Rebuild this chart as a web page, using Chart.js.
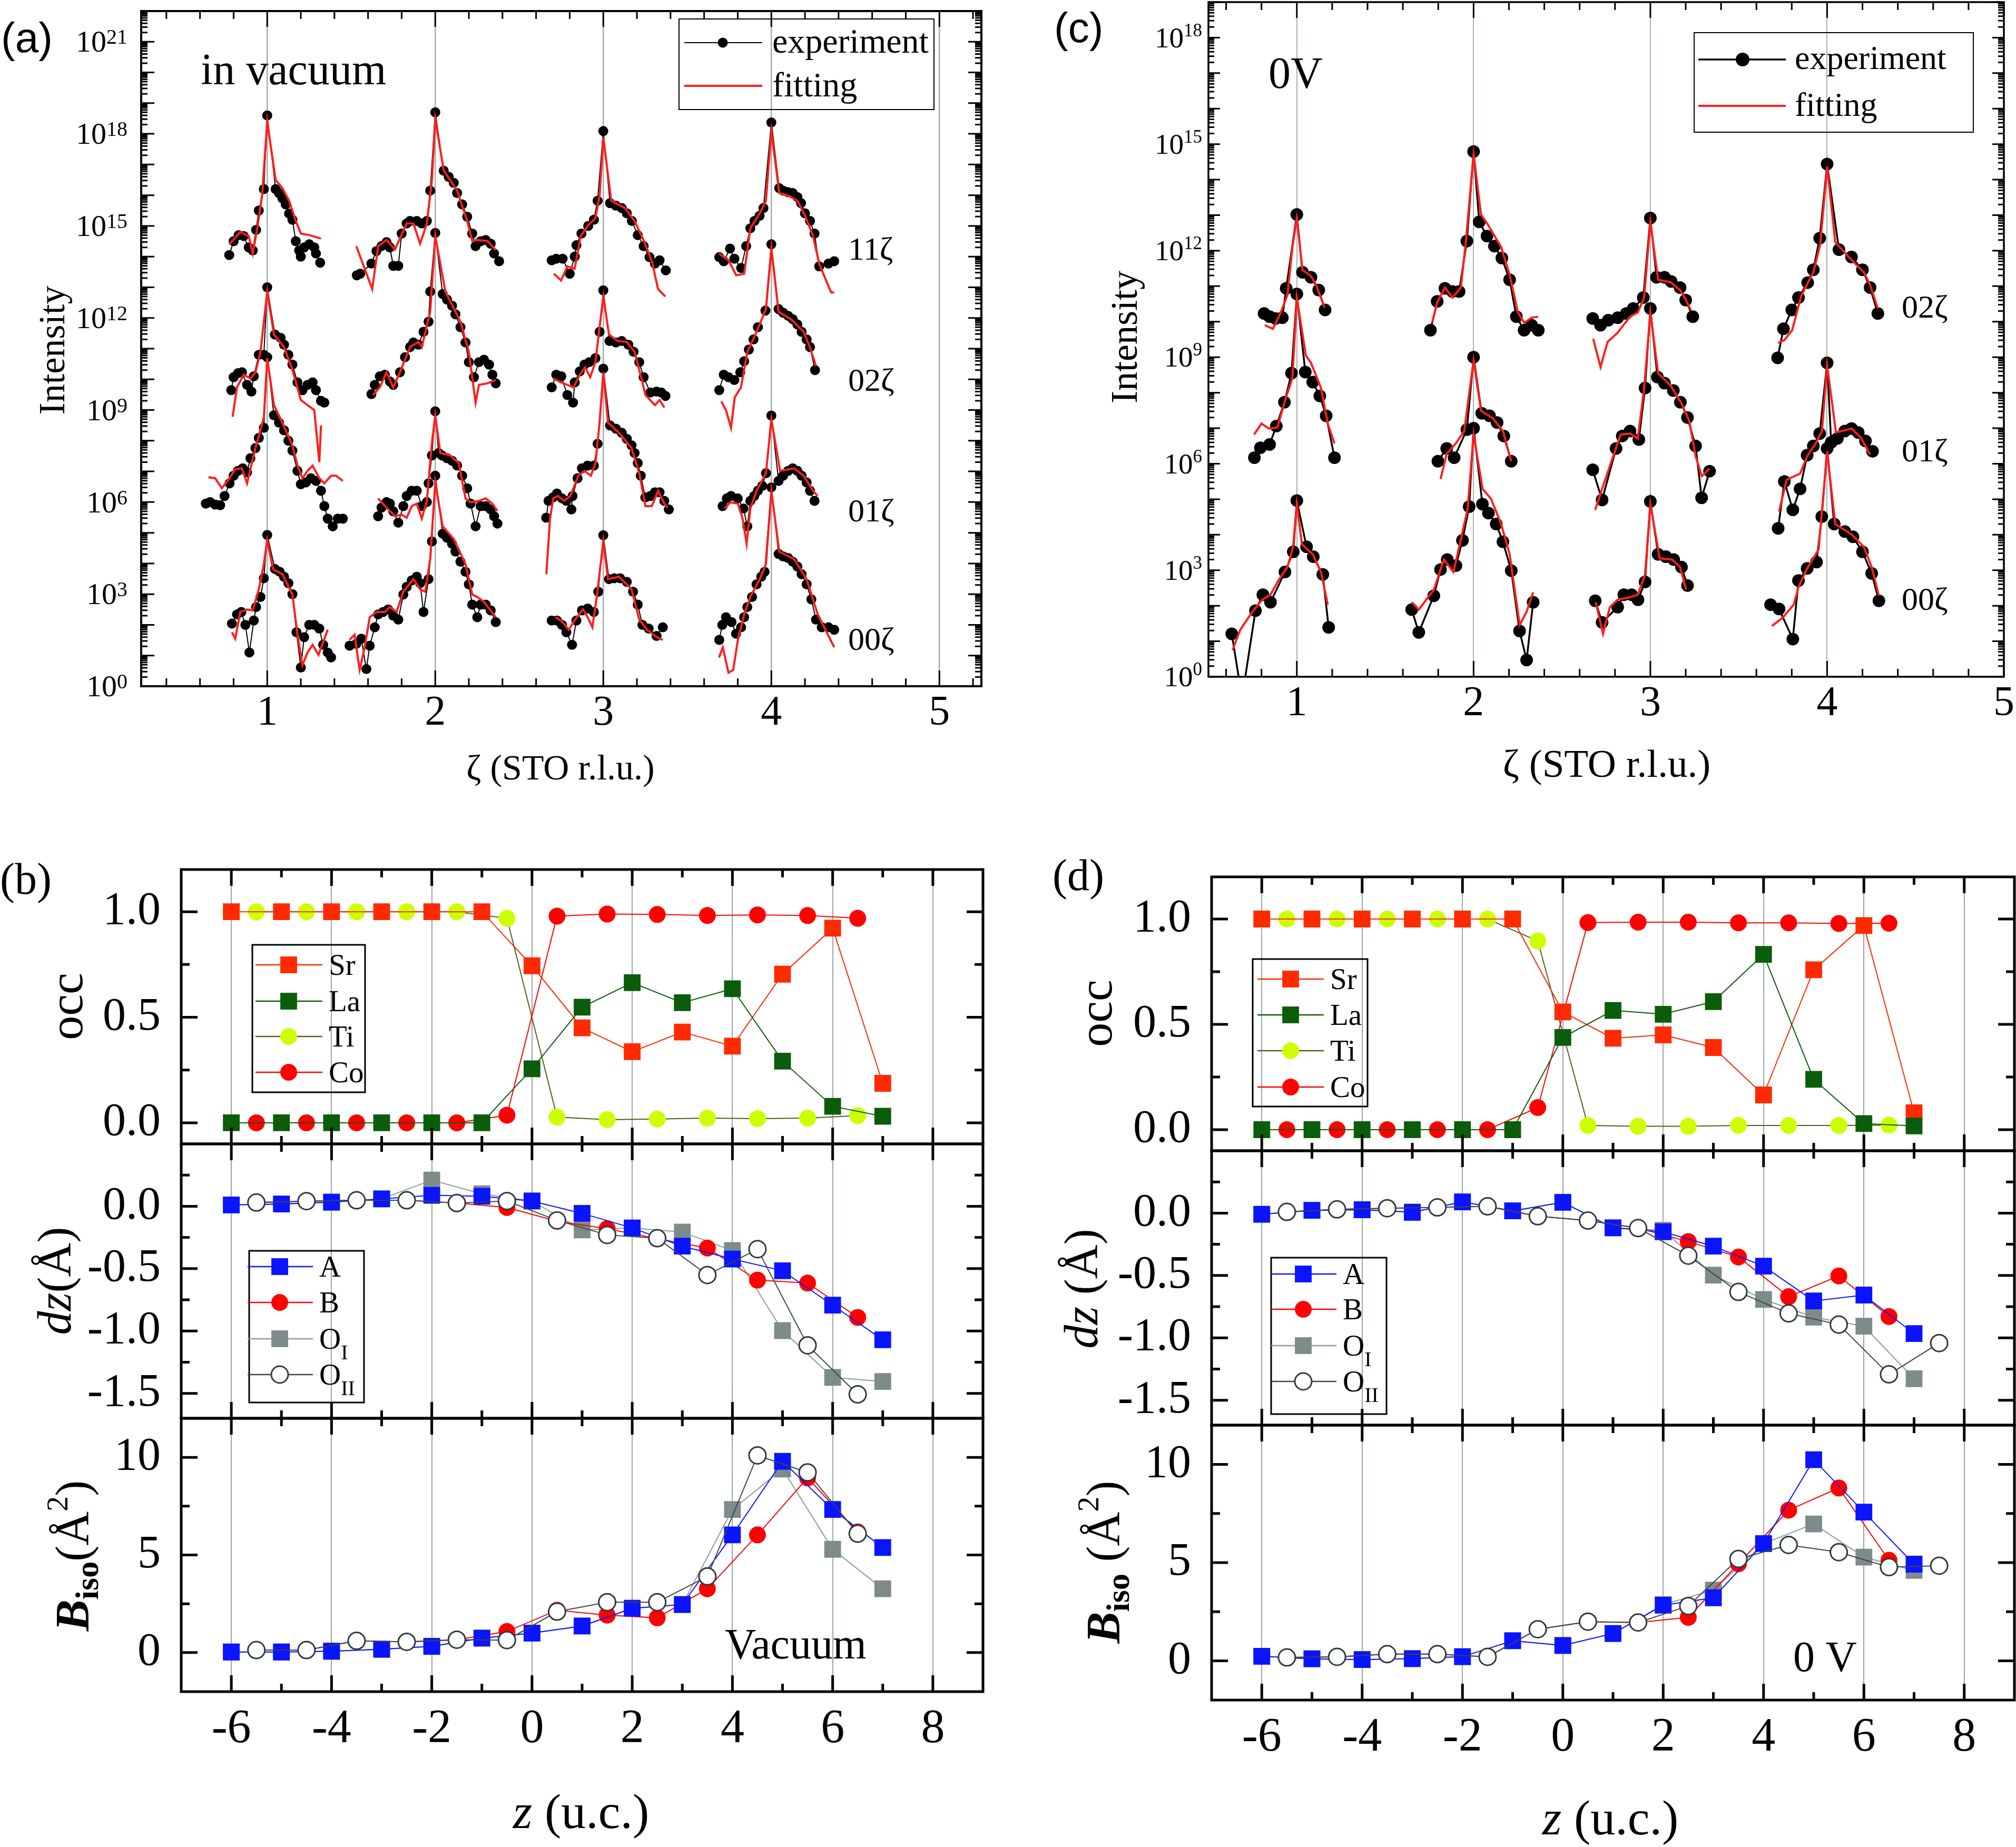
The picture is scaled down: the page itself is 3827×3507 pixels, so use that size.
<!DOCTYPE html>
<html>
<head>
<meta charset="utf-8">
<title>CTR fits and depth profiles</title>
<script src="https://cdn.jsdelivr.net/npm/chart.js@4.4.1/dist/chart.umd.min.js"></script>
<style>
  html, body { margin: 0; padding: 0; background: #fff; }
  body { position: relative; width: 3827px; height: 3507px; overflow: hidden; }
  canvas { position: absolute; }
</style>
</head>
<body>
<script>
const SERIF = "'Liberation Serif', 'DejaVu Serif', serif";
const SANS = "'Liberation Sans', 'DejaVu Sans', sans-serif";

// ---------- (a) rods in vacuum: [zeta, log10(intensity)], null = gap between rods ----------
const aExp11 = [
  [0.774,14.05],[0.80,14.5],[0.83,14.7],[0.86,14.67],[0.89,14.3],[0.914,14.2],[0.934,14.87],[0.95,15.5],[0.98,16.2],[1.0,18.6],[1.05,16.2],[1.07,16.07],[1.09,15.9],[1.11,15.7],[1.13,15.4],[1.15,15.2],[1.17,14.5],[1.19,14.2],[1.20,14.0],[1.22,14.3],[1.25,14.4],[1.28,14.3],[1.29,14.1],[1.315,13.8],
  null,
  [1.533,13.39],[1.553,13.44],[1.62,13.77],[1.65,14.18],[1.68,14.34],[1.71,14.47],[1.73,14.3],[1.75,13.7],[1.78,13.7],[1.80,14.75],[1.83,15.08],[1.85,15.16],[1.89,15.16],[1.92,15.08],[1.95,15.16],[1.97,16.15],[2.0,18.7],[2.05,16.8],[2.08,16.6],[2.11,16.4],[2.13,16.07],[2.16,15.7],[2.19,15.3],[2.22,14.75],[2.24,14.34],[2.27,14.5],[2.30,14.54],[2.33,14.42],[2.35,14.1],[2.38,13.85],
  null,
  [2.693,13.88],[2.72,13.93],[2.758,13.93],[2.80,13.44],[2.83,14.0],[2.84,14.37],[2.87,14.75],[2.91,15.0],[2.944,15.2],[2.966,15.82],[3.0,18.09],[3.04,15.74],[3.075,15.66],[3.11,15.58],[3.14,15.41],[3.17,15.16],[3.205,14.7],[3.24,14.34],[3.275,13.98],[3.307,13.77],[3.335,13.88],[3.372,13.55],
  null,
  [3.69,13.98],[3.717,13.85],[3.754,14.26],[3.78,13.93],[3.82,13.63],[3.85,14.34],[3.875,14.92],[3.90,15.16],[3.93,15.33],[3.953,15.58],[4.0,18.37],[4.047,16.23],[4.07,16.15],[4.099,16.1],[4.127,16.07],[4.155,15.94],[4.177,15.74],[4.20,15.41],[4.23,15.16],[4.257,14.75],[4.285,13.68],[4.34,13.77],[4.374,13.85]
];
const aFit11 = [
  [0.774,14.4],[0.84,14.8],[0.89,14.67],[0.914,14.1],[0.94,14.9],[0.97,16.0],[1.0,18.4],[1.05,16.5],[1.09,16.23],[1.13,15.82],[1.17,15.16],[1.20,14.75],[1.25,14.7],[1.32,14.59],
  null,
  [1.53,14.34],[1.625,12.94],[1.66,14.34],[1.71,14.54],[1.76,14.23],[1.83,15.08],[1.87,15.08],[1.91,14.42],[1.95,15.08],[1.98,16.48],[2.0,18.49],[2.05,16.81],[2.13,16.15],[2.19,15.16],[2.22,14.51],[2.25,14.54],[2.31,14.51],[2.36,14.21],
  null,
  [2.706,13.44],[2.749,13.22],[2.786,13.68],[2.829,13.6],[2.866,14.67],[2.907,15.0],[2.953,15.25],[2.978,15.99],[3.0,17.88],[3.047,15.82],[3.13,15.58],[3.186,15.16],[3.242,14.51],[3.289,13.85],[3.326,12.94],[3.369,12.7],
  null,
  [3.689,14.1],[3.745,13.88],[3.791,13.39],[3.838,13.44],[3.875,14.92],[3.931,15.41],[3.968,15.82],[4.0,18.09],[4.047,16.07],[4.099,15.99],[4.155,15.82],[4.201,15.33],[4.248,14.67],[4.285,13.77],[4.322,13.27],[4.356,12.83],[4.374,12.83]
];
const aExp02 = [
  [0.786,9.65],[0.80,10.07],[0.826,10.2],[0.85,10.23],[0.88,9.82],[0.906,9.6],[0.92,10.1],[0.95,10.8],[0.98,10.8],[1.0,13.0],[1.046,11.46],[1.08,11.35],[1.10,11.13],[1.126,10.8],[1.15,10.48],[1.18,9.9],[1.21,9.65],[1.24,9.82],[1.27,9.9],[1.29,9.65],[1.32,9.3],[1.34,9.24],
  null,
  [1.62,9.52],[1.64,9.82],[1.67,10.1],[1.70,10.15],[1.73,9.93],[1.75,9.82],[1.79,10.23],[1.82,10.72],[1.85,11.05],[1.87,11.2],[1.90,11.13],[1.93,11.55],[1.96,11.88],[1.97,12.86],[2.0,14.77],[2.044,12.78],[2.07,12.6],[2.10,12.4],[2.12,12.12],[2.15,11.7],[2.18,11.2],[2.20,10.56],[2.23,10.07],[2.26,10.56],[2.29,10.64],[2.32,10.48],[2.34,10.15],[2.36,9.87],
  null,
  [2.693,9.74],[2.72,10.15],[2.75,10.1],[2.786,9.49],[2.82,9.24],[2.83,9.9],[2.86,10.26],[2.888,10.48],[2.916,10.56],[2.953,10.69],[2.978,11.55],[3.0,12.9],[3.037,11.25],[3.075,11.2],[3.11,11.25],[3.149,11.13],[3.18,10.9],[3.214,10.56],[3.24,10.07],[3.28,9.57],[3.317,9.6],[3.345,9.57],[3.37,9.46],
  null,
  [3.69,9.65],[3.717,10.15],[3.745,10.07],[3.78,9.98],[3.815,10.23],[3.838,10.59],[3.866,10.97],[3.894,11.3],[3.92,11.7],[3.965,12.24],[4.0,14.4],[4.043,12.29],[4.07,12.17],[4.10,12.07],[4.127,11.96],[4.155,11.79],[4.18,11.55],[4.21,11.3],[4.23,11.05],[4.26,10.3]
];
const aFit02 = [
  [0.794,8.78],[0.82,9.74],[0.86,10.15],[0.90,10.03],[0.93,10.23],[0.96,10.89],[1.0,12.86],[1.04,11.46],[1.10,11.05],[1.15,10.31],[1.20,9.33],[1.24,9.16],[1.28,9.0],[1.31,7.3],[1.32,8.5],
  null,
  [1.63,9.49],[1.67,9.74],[1.71,10.23],[1.75,9.74],[1.79,10.23],[1.85,11.05],[1.90,11.22],[1.92,11.05],[1.97,12.2],[2.0,14.67],[2.06,12.86],[2.15,11.88],[2.20,10.89],[2.24,9.24],[2.26,9.82],[2.31,9.87],[2.36,9.98],
  null,
  [2.702,10.03],[2.749,9.9],[2.786,9.82],[2.823,9.74],[2.86,10.15],[2.892,10.39],[2.922,10.07],[2.953,10.56],[2.978,11.71],[3.0,12.7],[3.034,11.46],[3.084,11.25],[3.14,11.22],[3.186,10.89],[3.233,9.9],[3.251,9.49],[3.307,9.16],[3.335,9.33],[3.363,9.08],
  null,
  [3.702,9.28],[3.73,9.0],[3.76,8.42],[3.782,9.41],[3.819,9.74],[3.857,10.89],[3.912,11.55],[3.968,12.29],[4.0,14.26],[4.043,12.2],[4.117,11.96],[4.192,11.55],[4.229,11.05],[4.266,10.43]
];
const aExp01 = [
  [0.635,5.95],[0.66,6.0],[0.69,5.92],[0.72,5.9],[0.746,6.2],[0.776,6.61],[0.80,6.86],[0.826,7.02],[0.854,7.1],[0.88,6.97],[0.90,7.43],[0.93,7.76],[0.95,8.09],[0.98,8.42],[1.0,10.72],[1.04,8.83],[1.07,8.59],[1.10,8.34],[1.126,8.0],[1.15,7.68],[1.18,7.02],[1.20,6.58],[1.23,6.64],[1.26,6.78],[1.29,6.69],[1.32,6.37],[1.34,5.87],[1.36,5.46],[1.39,5.21],[1.42,5.46],[1.45,5.46],
  null,
  [1.66,5.54],[1.68,5.82],[1.71,6.0],[1.73,5.95],[1.75,5.7],[1.78,5.33],[1.81,5.87],[1.83,6.2],[1.86,6.37],[1.89,6.37],[1.92,5.87],[1.95,6.0],[1.96,6.61],[1.98,7.52],[2.0,8.96],[2.02,7.6],[2.04,7.52],[2.07,7.43],[2.10,7.35],[2.13,7.19],[2.16,6.86],[2.19,6.45],[2.21,5.95],[2.24,5.21],[2.27,5.87],[2.30,5.87],[2.33,5.76],[2.35,5.54],[2.37,5.3],
  null,
  [2.66,5.49],[2.674,6.04],[2.70,6.15],[2.724,6.28],[2.754,6.12],[2.78,6.04],[2.81,5.76],[2.817,6.2],[2.847,6.78],[2.873,7.1],[2.907,7.19],[2.944,7.19],[2.966,7.9],[3.0,10.35],[3.04,8.5],[3.075,8.39],[3.11,8.26],[3.14,8.06],[3.168,7.85],[3.186,7.6],[3.205,7.27],[3.223,6.86],[3.25,6.15],[3.28,6.2],[3.307,6.32],[3.335,6.32],[3.363,6.04],[3.39,5.76],
  null,
  [3.71,5.87],[3.735,6.12],[3.76,6.2],[3.80,6.12],[3.834,5.79],[3.857,5.21],[3.875,6.04],[3.898,6.2],[3.92,6.37],[3.946,6.53],[3.968,6.94],[4.0,8.82],[4.043,6.69],[4.07,6.86],[4.1,7.02],[4.127,7.1],[4.155,7.02],[4.18,6.86],[4.21,6.64],[4.23,6.37],[4.257,6.04]
];
const aFit01 = [
  [0.65,6.81],[0.69,6.78],[0.73,6.45],[0.77,6.74],[0.81,7.07],[0.85,7.1],[0.88,6.61],[0.93,7.76],[0.98,8.75],[1.0,10.69],[1.04,9.16],[1.09,8.59],[1.15,7.85],[1.18,7.19],[1.21,6.78],[1.24,7.02],[1.27,7.19],[1.31,6.78],[1.34,6.61],[1.38,6.86],[1.41,6.86],[1.45,6.69],
  null,
  [1.66,6.12],[1.71,5.82],[1.76,5.54],[1.80,5.59],[1.83,5.49],[1.86,5.87],[1.89,5.95],[1.92,5.46],[1.95,6.04],[1.98,7.93],[2.0,8.83],[2.03,7.6],[2.09,7.52],[2.14,7.27],[2.18,6.12],[2.21,5.99],[2.26,6.04],[2.30,6.12],[2.34,5.95],[2.37,5.71],
  null,
  [2.661,3.65],[2.683,5.46],[2.702,6.12],[2.73,6.2],[2.767,6.04],[2.804,6.2],[2.851,6.86],[2.888,7.02],[2.926,6.86],[2.953,7.27],[2.978,8.59],[3.0,10.23],[3.028,8.59],[3.093,8.26],[3.168,7.76],[3.214,6.94],[3.251,5.87],[3.289,5.87],[3.326,6.37],[3.363,5.95],[3.382,5.82],
  null,
  [3.723,5.79],[3.754,5.99],[3.801,5.95],[3.829,5.46],[3.853,4.64],[3.875,5.79],[3.912,6.37],[3.968,6.94],[4.0,8.7],[4.052,7.02],[4.136,7.1],[4.192,6.86],[4.248,6.37],[4.276,6.2]
];
const aExp00 = [
  [0.79,2.04],[0.82,2.34],[0.846,2.42],[0.87,2.0],[0.894,1.1],[0.92,2.14],[0.934,2.58],[0.96,2.91],[0.98,3.52],[1.0,4.93],[1.046,3.82],[1.074,3.73],[1.10,3.57],[1.126,3.36],[1.15,3.0],[1.174,1.76],[1.20,0.61],[1.22,1.6],[1.25,2.0],[1.28,2.0],[1.31,1.88],[1.333,1.35],[1.36,1.1],[1.38,0.94],
  null,
  [1.49,1.32],[1.53,1.38],[1.56,1.55],[1.59,0.56],[1.61,1.32],[1.64,1.92],[1.66,2.34],[1.69,2.42],[1.72,2.5],[1.75,2.3],[1.78,2.17],[1.81,2.99],[1.83,3.24],[1.86,3.45],[1.89,3.57],[1.91,3.36],[1.93,2.42],[1.96,3.49],[1.98,4.72],[2.0,6.86],[2.044,4.97],[2.07,4.84],[2.10,4.64],[2.12,4.39],[2.15,4.06],[2.18,3.73],[2.20,3.32],[2.22,2.66],[2.25,2.25],[2.27,2.66],[2.30,2.66],[2.33,2.47],[2.36,2.09],
  null,
  [2.693,2.14],[2.724,2.14],[2.754,2.0],[2.78,1.76],[2.814,1.35],[2.84,2.14],[2.873,2.47],[2.907,2.53],[2.944,2.42],[2.97,3.08],[3.0,4.92],[3.034,3.49],[3.065,3.52],[3.10,3.52],[3.14,3.4],[3.177,3.08],[3.205,2.66],[3.233,2.0],[3.27,1.88],[3.317,1.64],[3.354,1.92],
  null,
  [3.69,1.51],[3.708,2.0],[3.73,2.25],[3.763,2.09],[3.79,1.71],[3.82,1.92],[3.838,2.25],[3.857,2.58],[3.885,2.91],[3.912,3.32],[3.94,3.57],[3.96,3.73],[4.0,6.48],[4.043,4.31],[4.07,4.23],[4.1,4.18],[4.127,4.06],[4.155,3.9],[4.18,3.65],[4.21,3.32],[4.238,2.83],[4.266,2.17],[4.30,1.92],[4.34,1.92],[4.374,1.84]
];
const aFit00 = [
  [0.79,1.76],[0.81,1.55],[0.84,2.42],[0.88,2.5],[0.914,2.47],[0.95,3.16],[0.98,3.98],[1.0,4.77],[1.034,3.82],[1.09,3.65],[1.15,2.99],[1.18,1.68],[1.21,0.69],[1.24,1.1],[1.27,1.35],[1.305,1.02],[1.36,1.84],
  null,
  [1.49,1.51],[1.52,1.68],[1.55,0.53],[1.58,1.27],[1.61,2.25],[1.65,2.42],[1.70,2.42],[1.73,2.58],[1.77,2.42],[1.81,3.08],[1.87,3.49],[1.91,3.16],[1.94,3.08],[1.97,4.14],[2.0,6.64],[2.044,5.21],[2.11,4.8],[2.18,3.98],[2.22,2.99],[2.25,2.91],[2.29,2.75],[2.36,2.25],
  null,
  [2.717,2.25],[2.758,2.09],[2.795,1.84],[2.832,2.17],[2.879,2.5],[2.907,2.25],[2.935,1.92],[2.963,2.99],[3.0,4.72],[3.028,3.49],[3.093,3.57],[3.168,3.16],[3.214,2.17],[3.261,1.84],[3.317,1.6],[3.354,1.51],
  null,
  [3.689,0.94],[3.711,1.27],[3.745,0.44],[3.773,0.53],[3.801,1.51],[3.838,2.34],[3.875,2.91],[3.931,3.49],[3.968,3.98],[4.0,6.37],[4.047,4.39],[4.136,4.14],[4.21,3.49],[4.248,2.83],[4.276,2.34],[4.322,1.84],[4.374,1.27]
];

// ---------- (c) rods at 0 V ----------
const cExp02 = [
  [0.815,10.23],[0.846,10.14],[0.88,10.09],[0.918,10.11],[0.94,10.94],[1.0,13.02],[1.032,11.39],[1.08,11.25],[1.124,10.89],[1.16,10.33],
  null,
  [1.756,9.76],[1.794,10.57],[1.838,10.94],[1.88,10.85],[1.918,10.85],[1.962,12.27],[2.0,14.79],[2.032,12.81],[2.076,12.41],[2.118,12.13],[2.16,11.79],[2.204,11.18],[2.242,10.14],[2.286,9.76],[2.328,9.9],[2.366,9.76],
  null,
  [2.674,10.09],[2.718,9.9],[2.762,10.04],[2.815,10.11],[2.864,10.23],[2.903,10.37],[2.96,10.68],[3.0,12.92],[3.035,11.25],[3.08,11.25],[3.118,11.13],[3.168,10.96],[3.2,10.61],[3.24,10.14],
  null,
  [3.72,8.98],[3.753,9.8],[3.8,10.33],[3.838,10.68],[3.89,11.1],[3.922,11.46],[3.958,12.35],[4.0,14.44],[4.067,12.03],[4.138,11.82],[4.2,11.46],[4.243,10.96],[4.287,10.23]
];
const cFit02 = [
  [0.819,9.9],[0.865,9.8],[0.909,10.26],[0.947,10.75],[0.975,12.1],[1.0,12.92],[1.032,11.46],[1.08,11.28],[1.109,11.04],[1.156,10.4],
  null,
  [1.766,9.97],[1.794,10.54],[1.838,10.96],[1.88,10.68],[1.928,10.96],[1.956,12.24],[2.0,14.72],[2.042,13.02],[2.08,12.74],[2.156,12.1],[2.204,11.32],[2.251,10.26],[2.286,9.97],[2.328,10.11],[2.366,10.14],
  null,
  [2.677,9.52],[2.718,8.72],[2.758,9.43],[2.815,9.69],[2.885,10.14],[2.929,10.26],[2.965,10.68],[3.0,12.81],[3.044,11.18],[3.115,11.11],[3.168,10.89],[3.194,10.68],[3.229,10.33],
  null,
  [3.723,9.4],[3.758,9.48],[3.802,9.76],[3.855,10.75],[3.922,11.39],[3.961,12.17],[4.0,14.37],[4.046,12.24],[4.138,11.74],[4.208,11.39],[4.243,11.04],[4.287,10.37]
];
const cExp01 = [
  [0.76,6.17],[0.794,6.45],[0.846,6.54],[0.884,7.06],[0.93,7.73],[0.97,8.55],[1.0,10.78],[1.048,8.58],[1.09,8.3],[1.13,7.91],[1.166,7.35],[1.213,6.17],
  null,
  [1.798,6.07],[1.848,6.43],[1.89,6.17],[1.962,6.96],[2.0,9.0],[2.046,7.42],[2.09,7.35],[2.133,7.16],[2.171,6.78],[2.213,6.07],
  null,
  [2.674,5.83],[2.727,4.98],[2.806,6.43],[2.841,6.78],[2.885,6.92],[2.935,6.68],[2.97,8.13],[3.0,10.37],[3.04,8.44],[3.08,8.27],[3.13,8.06],[3.17,7.73],[3.21,7.3],[3.256,6.5],[3.29,5.04],[3.335,5.79],
  null,
  [3.723,4.18],[3.758,5.5],[3.806,4.7],[3.847,5.29],[3.887,6.24],[3.922,6.5],[3.958,6.85],[4.0,8.84],[4.023,6.6],[4.058,6.71],[4.1,6.92],[4.138,6.99],[4.176,6.88],[4.217,6.64],[4.257,6.35]
];
const cFit01 = [
  [0.758,6.82],[0.8,7.13],[0.842,6.99],[0.89,7.02],[0.937,7.84],[0.975,8.41],[1.0,10.68],[1.051,9.05],[1.08,8.84],[1.137,8.13],[1.175,7.13],[1.213,6.57],
  null,
  [1.813,5.57],[1.848,6.28],[1.899,6.57],[1.947,6.92],[2.0,8.91],[2.042,7.49],[2.109,7.28],[2.166,6.92],[2.213,6.07],
  null,
  [2.688,4.7],[2.727,5.29],[2.78,6.07],[2.832,6.82],[2.885,6.85],[2.929,6.71],[2.965,8.13],[3.0,10.26],[3.044,8.55],[3.115,8.2],[3.176,7.7],[3.22,7.21],[3.256,6.21],[3.291,5.65],[3.335,5.86],
  null,
  [3.728,4.65],[3.771,5.55],[3.847,5.72],[3.887,6.21],[3.935,6.57],[3.971,6.92],[4.0,8.77],[4.05,6.88],[4.138,6.99],[4.19,6.74],[4.243,6.26]
];
const cExp00 = [
  [0.632,1.21],[0.69,-0.6],[0.766,1.86],[0.808,2.31],[0.851,2.1],[0.933,2.95],[0.98,3.52],[1.0,4.96],[1.055,3.66],[1.093,3.38],[1.147,2.88],[1.18,1.39],
  null,
  [1.65,1.89],[1.69,1.25],[1.775,2.28],[1.813,3.02],[1.851,3.3],[1.9,3.13],[1.937,3.84],[1.975,4.79],[2.0,7.0],[2.05,4.86],[2.084,4.61],[2.128,4.3],[2.166,3.8],[2.213,2.99],[2.26,1.29],[2.3,0.47],[2.337,2.1],
  null,
  [2.688,2.14],[2.727,1.53],[2.815,1.96],[2.85,2.31],[2.894,2.31],[2.93,2.17],[2.97,2.67],[3.0,4.94],[3.044,3.45],[3.088,3.38],[3.132,3.3],[3.176,3.09],[3.21,2.57],
  null,
  [3.68,2.03],[3.728,1.91],[3.806,1.06],[3.838,2.71],[3.887,3.05],[3.94,3.23],[3.97,4.51],[4.0,6.43],[4.04,4.3],[4.1,4.09],[4.146,3.94],[4.2,3.52],[4.252,2.91],[4.293,2.14]
];
const cFit00 = [
  [0.636,0.75],[0.68,1.32],[0.747,1.82],[0.804,2.17],[0.851,2.31],[0.899,2.74],[0.947,3.09],[0.979,3.66],[1.0,4.87],[1.029,3.73],[1.09,3.45],[1.137,2.95],[1.175,2.03],
  null,
  [1.651,2.1],[1.69,1.89],[1.775,2.45],[1.832,3.3],[1.886,2.95],[1.928,3.87],[1.966,4.72],[2.0,6.82],[2.051,5.29],[2.099,5.01],[2.156,4.3],[2.204,3.45],[2.261,1.46],[2.299,1.82],[2.337,2.38],
  null,
  [2.691,2.1],[2.732,1.21],[2.771,1.96],[2.815,2.17],[2.885,2.24],[2.929,2.31],[2.97,2.88],[3.0,4.87],[3.053,3.33],[3.123,3.3],[3.168,3.09],[3.203,2.45],
  null,
  [3.688,1.43],[3.75,1.67],[3.811,2.03],[3.838,2.52],[3.887,3.05],[3.952,3.59],[4.0,6.35],[4.046,4.3],[4.138,4.01],[4.208,3.66],[4.252,3.09],[4.293,2.28]
];

// ---------- (b)/(d) depth profiles, z in unit cells ----------
const zInt = [-6, -5, -4, -3, -2, -1, 0, 1, 2, 3, 4, 5, 6, 7];
const zHalf = [-5.5, -4.5, -3.5, -2.5, -1.5, -0.5, 0.5, 1.5, 2.5, 3.5, 4.5, 5.5, 6.5];
const zHalfLong = [-5.5, -4.5, -3.5, -2.5, -1.5, -0.5, 0.5, 1.5, 2.5, 3.5, 4.5, 5.5, 6.5, 7.5];

// (b) vacuum
const bOccSr = [1, 1, 1, 1, 1, 1, 0.744, 0.45, 0.337, 0.43, 0.363, 0.704, 0.922, 0.187];
const bOccLa = [0, 0, 0, 0, 0, 0, 0.256, 0.548, 0.664, 0.569, 0.635, 0.292, 0.078, 0.031];
const bOccTi = [1, 1, 1, 1, 1, 0.969, 0.027, 0.015, 0.018, 0.022, 0.02, 0.022, 0.034];
const bOccCo = [0, 0, 0, 0, 0, 0.036, 0.979, 0.989, 0.987, 0.982, 0.985, 0.982, 0.969];
const bDzA = [0.011, 0.018, 0.033, 0.059, 0.088, 0.08, 0.042, -0.057, -0.174, -0.32, -0.423, -0.517, -0.793, -1.07];
const bDzB = [0.03, 0.041, 0.048, 0.048, 0.026, -0.01, -0.12, -0.18, -0.26, -0.335, -0.592, -0.616, -0.891];
const bDzOI = [0.011, 0.018, 0.033, 0.059, 0.21, 0.1, 0.042, -0.19, -0.174, -0.207, -0.355, -0.997, -1.372, -1.405];
const bDzOII = [0.03, 0.041, 0.048, 0.048, 0.026, 0.042, -0.113, -0.23, -0.256, -0.551, -0.344, -1.115, -1.508];
const bBisoA = [0.03, 0.03, 0.07, 0.17, 0.32, 0.74, 1.0, 1.36, 2.27, 2.46, 6.03, 9.8, 7.33, 5.38];
const bBisoB = [0.13, 0.13, 0.6, 0.55, 0.66, 1.08, 2.17, 1.92, 1.78, 3.27, 6.03, 8.95, 6.18];
const bBisoOI = [0.03, 0.03, 0.07, 0.17, 0.32, 0.74, 1.0, 1.36, 2.27, 2.46, 7.33, 9.4, 5.29, 3.27];
const bBisoOII = [0.13, 0.13, 0.6, 0.55, 0.66, 0.64, 2.1, 2.58, 2.58, 3.9, 10.1, 9.23, 6.09];

// (d) 0 V
const dOccSr = [1, 1, 1, 1, 1, 1, 0.559, 0.434, 0.45, 0.39, 0.165, 0.759, 0.969, 0.08];
const dOccLa = [0, 0, 0, 0, 0, 0, 0.438, 0.566, 0.548, 0.608, 0.832, 0.239, 0.029, 0.018];
const dOccTi = [1, 1, 1, 1, 1, 0.896, 0.02, 0.016, 0.016, 0.02, 0.02, 0.02, 0.022];
const dOccCo = [0, 0, 0, 0, 0, 0.105, 0.983, 0.985, 0.985, 0.982, 0.982, 0.979, 0.98];
const dDzA = [-0.009, 0.022, 0.027, 0.007, 0.09, 0.018, 0.087, -0.118, -0.15, -0.265, -0.425, -0.704, -0.657, -0.966];
const dDzB = [0.01, 0.03, 0.039, 0.046, 0.054, -0.025, -0.06, -0.12, -0.228, -0.352, -0.67, -0.504, -0.829];
const dDzOI = [-0.009, 0.022, 0.027, 0.007, 0.09, 0.018, 0.087, -0.118, -0.138, -0.497, -0.692, -0.834, -0.907, -1.328];
const dDzOII = [0.01, 0.03, 0.039, 0.046, 0.054, -0.025, -0.06, -0.12, -0.341, -0.632, -0.804, -0.894, -1.293, -1.042];
const dBisoA = [0.23, 0.1, 0.06, 0.11, 0.21, 1.02, 0.78, 1.39, 2.83, 3.21, 5.97, 10.24, 7.57, 4.92];
const dBisoB = [0.17, 0.2, 0.34, 0.34, 0.2, 1.61, 1.99, 1.95, 2.21, 4.94, 7.67, 8.8, 5.12];
const dBisoOI = [0.23, 0.1, 0.06, 0.11, 0.21, 1.02, 0.78, 1.39, 2.86, 3.6, 5.97, 6.97, 5.28, 4.6];
const dBisoOII = [0.17, 0.2, 0.34, 0.34, 0.2, 1.61, 1.99, 1.95, 2.79, 5.19, 5.9, 5.53, 4.77, 4.84];

// ---------- helpers ----------
const logPts = arr => arr.map(p => p ? { x: p[0], y: Math.pow(10, p[1]) } : { x: null, y: null });
const pairs = (xs, ys) => xs.map((x, i) => ({ x: x, y: ys[i] }));
const f = (size, style) => (style ? style + ' ' : '') + size + 'px ' + SERIF;

const RED = '#FF1E1E';
const ST = {
  Sr:  { fill: '#FF2A00', line: '#FF2A00', style: 'rect', r: 22.5 },
  La:  { fill: '#0B5C0B', line: '#0B5C0B', style: 'rect', r: 22.5 },
  Ti:  { fill: '#CCFF00', line: '#4F5F1A', style: 'circle', r: 16 },
  Co:  { fill: '#FF0000', line: '#FF0000', style: 'circle', r: 16 },
  A:   { fill: '#0A14FF', line: '#0A14FF', style: 'rect', r: 22.5 },
  B:   { fill: '#FF0000', line: '#FF0000', style: 'circle', r: 16 },
  OI:  { fill: '#7E8B8B', line: '#8E9B9B', style: 'rect', r: 22.5 },
  OII: { fill: '#FFFFFF', line: '#3A4646', style: 'circle', r: 16, stroke: '#2F3B3B', sw: 3 }
};

function layerDs(xs, ys, st) {
  return {
    data: pairs(xs, ys), borderColor: st.line, borderWidth: 2,
    pointStyle: st.style, pointRadius: st.r, pointHoverRadius: st.r,
    pointBackgroundColor: st.fill, pointBorderColor: st.stroke || st.fill, pointBorderWidth: st.sw || 0
  };
}

function marker(ctx, m, x, y) {
  ctx.beginPath();
  if (m.style === 'rect') { const s = Math.SQRT1_2 * m.r; ctx.rect(x - s, y - s, 2 * s, 2 * s); }
  else ctx.arc(x, y, m.r, 0, Math.PI * 2);
  ctx.fillStyle = m.fill; ctx.fill();
  if (m.sw) { ctx.lineWidth = m.sw; ctx.strokeStyle = m.stroke; ctx.stroke(); }
}

function drawParts(ctx, parts, x, y, align) {
  let w = 0;
  parts.forEach(p => { ctx.font = p[1]; p.w = ctx.measureText(p[0]).width; w += p.w; });
  let cx = align === 'center' ? x - w / 2 : align === 'right' ? x - w : x;
  parts.forEach(p => { ctx.font = p[1]; ctx.fillText(p[0], cx, y + (p[2] || 0)); cx += p.w; });
}

function decorPlugin(d) {
  return {
    id: 'decor',
    afterDatasetsDraw(chart) {
      const ctx = chart.ctx, a = chart.chartArea, xs = chart.scales.x, ys = chart.scales.y;
      ctx.save();
      ctx.strokeStyle = '#000';
      ctx.lineWidth = d.tickW;
      ctx.beginPath();
      const xt = (vals, len) => vals.forEach(v => {
        const p = xs.getPixelForValue(v);
        ctx.moveTo(p, a.bottom); ctx.lineTo(p, a.bottom - len);
        ctx.moveTo(p, a.top); ctx.lineTo(p, a.top + len);
      });
      const yt = (vals, len) => vals.forEach(v => {
        const p = ys.getPixelForValue(v);
        ctx.moveTo(a.left, p); ctx.lineTo(a.left + len, p);
        ctx.moveTo(a.right, p); ctx.lineTo(a.right - len, p);
      });
      xt(d.xMajor, d.xMajLen); xt(d.xMinor, d.xMinLen);
      yt(d.yMajor, d.yMajLen); yt(d.yMinor, d.yMinLen);
      ctx.stroke();
      ctx.lineWidth = d.frameW;
      ctx.strokeRect(a.left, a.top, a.right - a.left, a.bottom - a.top);
      ctx.restore();
    },
    afterDraw(chart) {
      const ctx = chart.ctx, a = chart.chartArea, ys = chart.scales.y;
      const ox = d.ox, oy = d.oy;
      ctx.save();
      ctx.fillStyle = '#000';
      ctx.textAlign = 'left';
      ctx.textBaseline = 'alphabetic';
      if (d.logLabels) {
        const L = d.logLabels;
        L.exps.forEach(e => {
          const y = ys.getPixelForValue(Math.pow(10, e));
          const sup = String(e);
          ctx.font = f(L.sup); const ws = ctx.measureText(sup).width;
          ctx.font = f(L.base); const wb = ctx.measureText('10').width;
          const xr = a.left - L.gap;
          const base = y + 0.33 * L.base;
          ctx.font = f(L.base); ctx.fillText('10', xr - ws - wb, base);
          ctx.font = f(L.sup); ctx.fillText(sup, xr - ws, base - L.raise);
        });
      }
      (d.texts || []).forEach(t => {
        ctx.save();
        ctx.fillStyle = t.color || '#000';
        ctx.translate(t.x - ox, t.y - oy);
        if (t.rot) ctx.rotate(t.rot * Math.PI / 180);
        drawParts(ctx, t.parts.map(p => p.slice()), 0, 0, t.align || 'left');
        ctx.restore();
      });
      (d.legends || []).forEach(lg => {
        const b = lg.box;
        ctx.lineWidth = lg.bw; ctx.strokeStyle = '#000';
        ctx.strokeRect(b.l - ox, b.t - oy, b.r - b.l, b.b - b.t);
        lg.items.forEach(it => {
          const y = it.y - oy;
          ctx.beginPath();
          ctx.moveTo(it.x1 - ox, y); ctx.lineTo(it.x2 - ox, y);
          ctx.lineWidth = it.lw; ctx.strokeStyle = it.lc; ctx.stroke();
          if (it.mk) marker(ctx, it.mk, it.xm - ox, y);
          ctx.fillStyle = '#000';
          drawParts(ctx, it.parts.map(p => p.slice()), it.tx - ox, y + it.dy, 'left');
        });
      });
      ctx.restore();
    }
  };
}

function makeChart(box, area, xOpt, yOpt, datasets, deco) {
  const cv = document.createElement('canvas');
  cv.width = box.w; cv.height = box.h;
  cv.style.left = box.x + 'px'; cv.style.top = box.y + 'px';
  cv.style.width = box.w + 'px'; cv.style.height = box.h + 'px';
  document.body.appendChild(cv);
  const yW = area.l - box.x, xH = box.y + box.h - area.b;
  xOpt.afterFit = s => { s.height = xH; s.paddingLeft = 0; s.paddingRight = 0; };
  yOpt.afterFit = s => { s.width = yW; s.paddingTop = 0; s.paddingBottom = 0; };
  deco.ox = box.x; deco.oy = box.y;
  return new Chart(cv, {
    type: 'line',
    data: { datasets: datasets },
    options: {
      responsive: false, animation: false, devicePixelRatio: 1, events: [],
      layout: { autoPadding: false, padding: { left: 0, bottom: 0, top: area.t - box.y, right: box.x + box.w - area.r } },
      plugins: { legend: { display: false }, tooltip: { enabled: false } },
      scales: { x: xOpt, y: yOpt }
    },
    plugins: [decorPlugin(deco)]
  });
}

function linX(min, max, ticks, showLabels, size, pad, gridColor, gridW) {
  return {
    type: 'linear', min: min, max: max,
    afterBuildTicks: s => { s.ticks = ticks.map(v => ({ value: v })); },
    ticks: { display: showLabels, autoSkip: false, maxRotation: 0, minRotation: 0, padding: pad, color: '#000',
             font: { family: SERIF, size: size }, callback: v => String(v) },
    grid: { display: true, drawTicks: false, color: gridColor, lineWidth: gridW },
    border: { display: false }
  };
}
function linY(min, max, ticks, fmt, size, pad) {
  return {
    type: 'linear', min: min, max: max,
    afterBuildTicks: s => { s.ticks = ticks.map(v => ({ value: v })); },
    ticks: { autoSkip: false, padding: pad, color: '#000', font: { family: SERIF, size: size }, callback: fmt },
    grid: { display: false, drawTicks: false },
    border: { display: false }
  };
}
function logY(max) {
  return { type: 'logarithmic', min: 1, max: max, ticks: { display: false }, grid: { display: false, drawTicks: false }, border: { display: false } };
}

function stepList(a, b, step, skip) {
  const out = [];
  for (let v = a; v <= b + 1e-9; v += step) {
    const r = Math.round(v * 100) / 100;
    if (!skip(r)) out.push(r);
  }
  return out;
}
function logMinor(maxExp) {
  const out = [];
  for (let e = 0; e < maxExp; e++) for (let m = 2; m <= 9; m++) out.push(m * Math.pow(10, e));
  return out;
}
const decades = n => Array.from({ length: n + 1 }, (_, i) => Math.pow(10, i));

// ---------- panel (a) ----------
const expDs = (rows, r, lw) => rows.map(d => ({ data: logPts(d), borderColor: '#000', borderWidth: lw, pointRadius: r, pointHoverRadius: r, pointBackgroundColor: '#000', pointBorderWidth: 0 }));
const fitDs = (rows, lw) => rows.map(d => ({ data: logPts(d), borderColor: RED, borderWidth: lw, pointRadius: 0 }));

makeChart(
  { x: 0, y: 0, w: 1900, h: 1510 }, { l: 268, t: 21, r: 1863, b: 1303 },
  linX(0.25, 5.25, [1, 2, 3, 4, 5], true, 80, 4, '#A3ADAD', 2.5),
  logY(1e22),
  fitDs([aFit11, aFit02, aFit01, aFit00], 4).concat(expDs([aExp11, aExp02, aExp01, aExp00], 9.5, 2)),
  {
    tickW: 3, frameW: 4,
    xMajor: [1, 2, 3, 4, 5], xMinor: stepList(0.4, 5.2, 0.2, v => Number.isInteger(v)), xMajLen: 30, xMinLen: 15,
    yMajor: decades(22), yMinor: logMinor(22), yMajLen: 25, yMinLen: 12,
    logLabels: { exps: [0, 3, 6, 9, 12, 15, 18, 21], base: 58, sup: 40, raise: 15, gap: 26 },
    texts: [
      { x: 2, y: 99, parts: [['(a)', '80px ' + SANS]] },
      { x: 381, y: 160, parts: [['in vacuum', f(84)]] },
      { x: 122, y: 665, rot: -90, align: 'center', parts: [['Intensity', f(70)]] },
      { x: 1064, y: 1480, align: 'center', parts: [['ζ (STO r.l.u.)', f(68)]] },
      { x: 1610, y: 493, parts: [['11ζ', f(62)]] },
      { x: 1610, y: 742, parts: [['02ζ', f(62)]] },
      { x: 1610, y: 990, parts: [['01ζ', f(62)]] },
      { x: 1610, y: 1234, parts: [['00ζ', f(62)]] }
    ],
    legends: [{
      box: { l: 1289, t: 36, r: 1773, b: 208 }, bw: 2,
      items: [
        { y: 81, x1: 1299, x2: 1447, xm: 1372, lw: 2, lc: '#000', mk: { style: 'circle', r: 9.5, fill: '#000' }, tx: 1466, dy: 19, parts: [['experiment', f(66)]] },
        { y: 163, x1: 1299, x2: 1447, lw: 4, lc: RED, tx: 1466, dy: 20, parts: [['fitting', f(66)]] }
      ]
    }]
  }
);

// ---------- panel (c) ----------
makeChart(
  { x: 1910, y: 0, w: 1917, h: 1510 }, { l: 2294, t: 4, r: 3804, b: 1285 },
  linX(0.5, 5, [1, 2, 3, 4, 5], true, 80, 4, '#A8B2B2', 2),
  logY(1e19),
  fitDs([cFit02, cFit01, cFit00], 4).concat(expDs([cExp02, cExp01, cExp00], 12, 3.5)),
  {
    tickW: 3, frameW: 3.5,
    xMajor: [1, 2, 3, 4, 5], xMinor: stepList(0.6, 4.8, 0.2, v => Number.isInteger(v)), xMajLen: 30, xMinLen: 15,
    yMajor: decades(19), yMinor: logMinor(19), yMajLen: 22, yMinLen: 11,
    logLabels: { exps: [0, 3, 6, 9, 12, 15, 18], base: 55, sup: 35, raise: 21, gap: 12 },
    texts: [
      { x: 2001, y: 80, parts: [['(c)', '80px ' + SANS]] },
      { x: 2408, y: 167, parts: [['0V', f(84)]] },
      { x: 2158, y: 640, rot: -90, align: 'center', parts: [['Intensity', f(72)]] },
      { x: 3050, y: 1475, align: 'center', parts: [['ζ (STO r.l.u.)', f(75)]] },
      { x: 3610, y: 603, parts: [['02ζ', f(62)]] },
      { x: 3610, y: 876, parts: [['01ζ', f(62)]] },
      { x: 3610, y: 1158, parts: [['00ζ', f(62)]] }
    ],
    legends: [{
      box: { l: 3216, t: 62, r: 3746, b: 251 }, bw: 2,
      items: [
        { y: 113, x1: 3224, x2: 3390, xm: 3308, lw: 3.5, lc: '#000', mk: { style: 'circle', r: 13, fill: '#000' }, tx: 3407, dy: 18, parts: [['experiment', f(64)]] },
        { y: 201, x1: 3224, x2: 3390, lw: 4, lc: RED, tx: 3407, dy: 19, parts: [['fitting', f(64)]] }
      ]
    }]
  }
);

// ---------- panels (b) and (d): occ / dz / Biso ----------
const zMajor = [-6, -4, -2, 0, 2, 4, 6, 8];
const zMinor = [-5, -3, -1, 1, 3, 5, 7];
const lowDeco = (yMajor, yMinor, extra) => Object.assign({
  tickW: 5, frameW: 5, xMajor: zMajor, xMinor: zMinor, xMajLen: 31, xMinLen: 15,
  yMajor: yMajor, yMinor: yMinor, yMajLen: 31, yMinLen: 16
}, extra);
const occY = () => linY(-0.1, 1.2, [0, 0.5, 1], v => v.toFixed(1), 88, 39);
const dzY = () => linY(-1.7, 0.5, [0, -0.5, -1, -1.5], v => v.toFixed(1), 88, 39);
const bisoY = () => linY(-2, 12, [0, 5, 10], v => String(v), 88, 39);
const zX = show => linX(-7, 9, zMajor, show, 90, 18, '#9AA6A6', 2);

const legText = (t, sub) => sub ? [[t, f(57)], [sub, f(40), 20]] : [[t, f(57)]];
function occLegend(box, ys, x1, x2, xm, tx) {
  const names = ['Sr', 'La', 'Ti', 'Co'];
  return { box: box, bw: 3, items: names.map((n, i) => ({ y: ys[i], x1: x1, x2: x2, xm: xm, lw: 2.5, lc: ST[n].line, mk: ST[n], tx: tx, dy: 19, parts: legText(n) })) };
}
function dzLegend(box, ys, x1, x2, xm, tx) {
  const names = [['A', 'A'], ['B', 'B'], ['OI', 'O', 'I'], ['OII', 'O', 'II']];
  return { box: box, bw: 3, items: names.map((n, i) => ({ y: ys[i], x1: x1, x2: x2, xm: xm, lw: 2.5, lc: ST[n[0]].line, mk: ST[n[0]], tx: tx, dy: 19, parts: legText(n[1], n[2]) })) };
}

function bisoTitle(x, y, space) {
  return { x: x, y: y, rot: -90, align: 'center', parts: [['B', f(90, 'bold italic')], ['iso', f(62, 'bold'), 18], [(space ? ' ' : '') + '(Å', f(90)], ['2', f(58), -40], [')', f(90)]] };
}

// (b) vacuum
makeChart(
  { x: 0, y: 1600, w: 1920, h: 590 }, { l: 344, t: 1651, r: 1866, b: 2172 },
  zX(false), occY(),
  [layerDs(zInt, bOccLa, ST.La), layerDs(zInt, bOccSr, ST.Sr), layerDs(zHalf, bOccCo, ST.Co), layerDs(zHalf, bOccTi, ST.Ti)],
  lowDeco([0, 0.5, 1], [0.25, 0.75], {
    texts: [
      { x: 0, y: 1697, parts: [['(b)', f(84)]] },
      { x: 156, y: 1911, rot: -90, align: 'center', parts: [['occ', f(92)]] }
    ],
    legends: [occLegend({ l: 479, t: 1794, r: 693, b: 2074 }, [1832, 1901, 1968, 2036], 485, 612, 548, 624)]
  })
);
makeChart(
  { x: 0, y: 2140, w: 1920, h: 570 }, { l: 344, t: 2172, r: 1866, b: 2693 },
  zX(false), dzY(),
  [layerDs(zHalf, bDzOII, ST.OII), layerDs(zInt, bDzA, ST.A), layerDs(zHalf, bDzB, ST.B), layerDs(zInt, bDzOI, ST.OI)],
  lowDeco([0, -0.5, -1, -1.5], [0.25, -0.25, -0.75, -1.25], {
    texts: [
      { x: 134, y: 2432, rot: -90, align: 'center', parts: [['dz', f(90, 'italic')], ['(Å)', f(90)]] }
    ],
    legends: [dzLegend({ l: 473, t: 2375, r: 691, b: 2663 }, [2405, 2473, 2542, 2610], 470, 594, 531, 606)]
  })
);
makeChart(
  { x: 0, y: 2660, w: 1920, h: 847 }, { l: 344, t: 2693, r: 1866, b: 3212 },
  zX(true), bisoY(),
  [layerDs(zHalf, bBisoOII, ST.OII), layerDs(zInt, bBisoA, ST.A), layerDs(zHalf, bBisoB, ST.B), layerDs(zInt, bBisoOI, ST.OI)],
  lowDeco([0, 5, 10], [2.5, 7.5], {
    texts: [
      bisoTitle(168, 2954, false),
      { x: 1376, y: 3149, parts: [['Vacuum', f(82)]] },
      { x: 1103, y: 3471, align: 'center', parts: [['z', f(94, 'italic')], [' (u.c.)', f(94)]] }
    ]
  })
);

// (d) 0 V
makeChart(
  { x: 1960, y: 1600, w: 1867, h: 600 }, { l: 2300, t: 1665, r: 3824, b: 2185 },
  zX(false), occY(),
  [layerDs(zInt, dOccLa, ST.La), layerDs(zInt, dOccSr, ST.Sr), layerDs(zHalf, dOccCo, ST.Co), layerDs(zHalf, dOccTi, ST.Ti)],
  lowDeco([0, 0.5, 1], [0.25, 0.75], {
    texts: [
      { x: 1998, y: 1690, parts: [['(d)', f(84)]] },
      { x: 2110, y: 1924, rot: -90, align: 'center', parts: [['occ', f(92)]] }
    ],
    legends: [occLegend({ l: 2378, t: 1821, r: 2596, b: 2101 }, [1859, 1927, 1995, 2064], 2387, 2513, 2450, 2525)]
  })
);
makeChart(
  { x: 1960, y: 2150, w: 1867, h: 580 }, { l: 2300, t: 2185, r: 3824, b: 2706 },
  zX(false), dzY(),
  [layerDs(zHalfLong, dDzOII, ST.OII), layerDs(zInt, dDzA, ST.A), layerDs(zHalf, dDzB, ST.B), layerDs(zInt, dDzOI, ST.OI)],
  lowDeco([0, -0.5, -1, -1.5], [0.25, -0.25, -0.75, -1.25], {
    texts: [
      { x: 2083, y: 2447, rot: -90, align: 'center', parts: [['dz', f(90, 'italic')], [' (Å)', f(90)]] }
    ],
    legends: [dzLegend({ l: 2413, t: 2388, r: 2632, b: 2685 }, [2419, 2486, 2555, 2623], 2413, 2537, 2474, 2549)]
  })
);
makeChart(
  { x: 1960, y: 2680, w: 1867, h: 827 }, { l: 2300, t: 2706, r: 3824, b: 3228 },
  zX(true), bisoY(),
  [layerDs(zHalfLong, dBisoOII, ST.OII), layerDs(zInt, dBisoA, ST.A), layerDs(zHalf, dBisoB, ST.B), layerDs(zInt, dBisoOI, ST.OI)],
  lowDeco([0, 5, 10], [2.5, 7.5], {
    texts: [
      bisoTitle(2125, 2966, true),
      { x: 3404, y: 3173, parts: [['0 V', f(82)]] },
      { x: 3057, y: 3483, align: 'center', parts: [['z', f(94, 'italic')], [' (u.c.)', f(94)]] }
    ]
  })
);
</script>
</body>
</html>
